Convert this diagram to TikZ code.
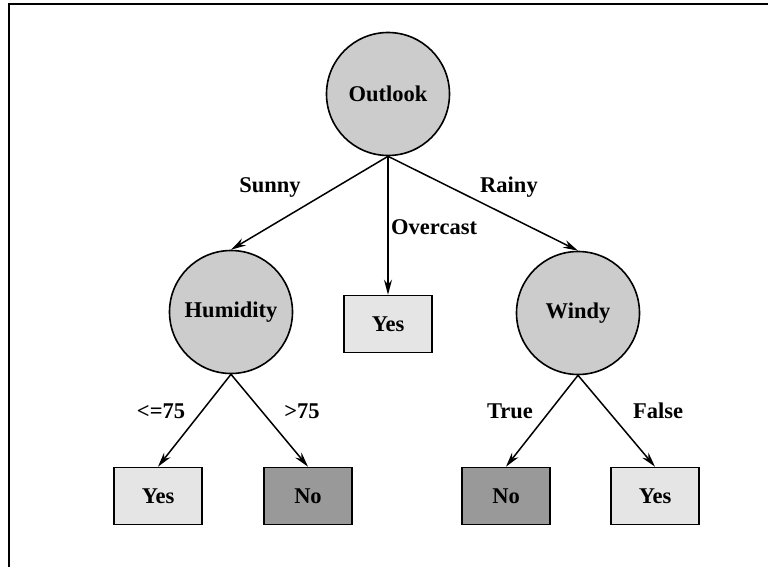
\documentclass[tikz,border=0pt]{standalone}
\usepackage{fontspec}
\setmainfont{Liberation Serif}
\usetikzlibrary{arrows.meta}
\definecolor{attrfill}{gray}{0.80}
\definecolor{yesfill}{gray}{0.90}
\definecolor{nofill}{gray}{0.60}
\tikzset{
  attr/.style={circle, draw, line width=1.6pt, fill=attrfill, minimum size=123pt, inner sep=0pt},
  leafyes/.style={rectangle, draw, line width=1.6pt, fill=yesfill, minimum width=88pt, minimum height=57pt, inner sep=0pt},
  leafno/.style={rectangle, draw, line width=1.6pt, fill=nofill, minimum width=88pt, minimum height=57pt, inner sep=0pt},
  branch/.style={line width=1.5pt, -{Stealth[length=15pt,width=8pt]}},
  edgelabel/.style={inner sep=0pt},
  every node/.append style={font=\fontsize{22.5}{26}\selectfont\bfseries}
}
\begin{document}
\begin{tikzpicture}[x=1pt, y=-1pt]
\useasboundingbox (0,0) rectangle (768,567);
% frame
\draw[line width=2pt] (9,567) -- (9,4.5) -- (768,4.5);

% attribute nodes
\node[attr] (outlook) at (388,94) {Outlook};
\node[attr] (humidity) at (231,312) {Humidity};
\node[attr] (windy) at (578,313) {Windy};

% leaves
\node[leafyes] (overyes) at (388,324) {Yes};
\node[leafyes] (hyes) at (158,496) {Yes};
\node[leafno] (hno) at (308,496) {No};
\node[leafno] (wno) at (506,496) {No};
\node[leafyes] (wyes) at (655,496) {Yes};

% branches
\draw[branch] (outlook.south) -- (humidity.north);
\draw[branch] (outlook.south) -- (overyes.north);
\draw[branch] (outlook.south) -- (windy.north);
\draw[branch] (humidity.south) -- (hyes.north);
\draw[branch] (humidity.south) -- (hno.north);
\draw[branch] (windy.south) -- (wno.north);
\draw[branch] (windy.south) -- (wyes.north);

% branch labels
\node[edgelabel] (lsunny) at (270,187) {Sunny};
\node[edgelabel] (lrainy) at (509,187) {Rainy};
\node[edgelabel, anchor=west] (lover) at (391,227) {Overcast};
\node[edgelabel] (lle) at (161,411) {<=75};
\node[edgelabel] (lgt) at (302,411) {>75};
\node[edgelabel] (ltrue) at (510,411) {True};
\node[edgelabel] (lfalse) at (658,411) {False};
\end{tikzpicture}
\end{document}
